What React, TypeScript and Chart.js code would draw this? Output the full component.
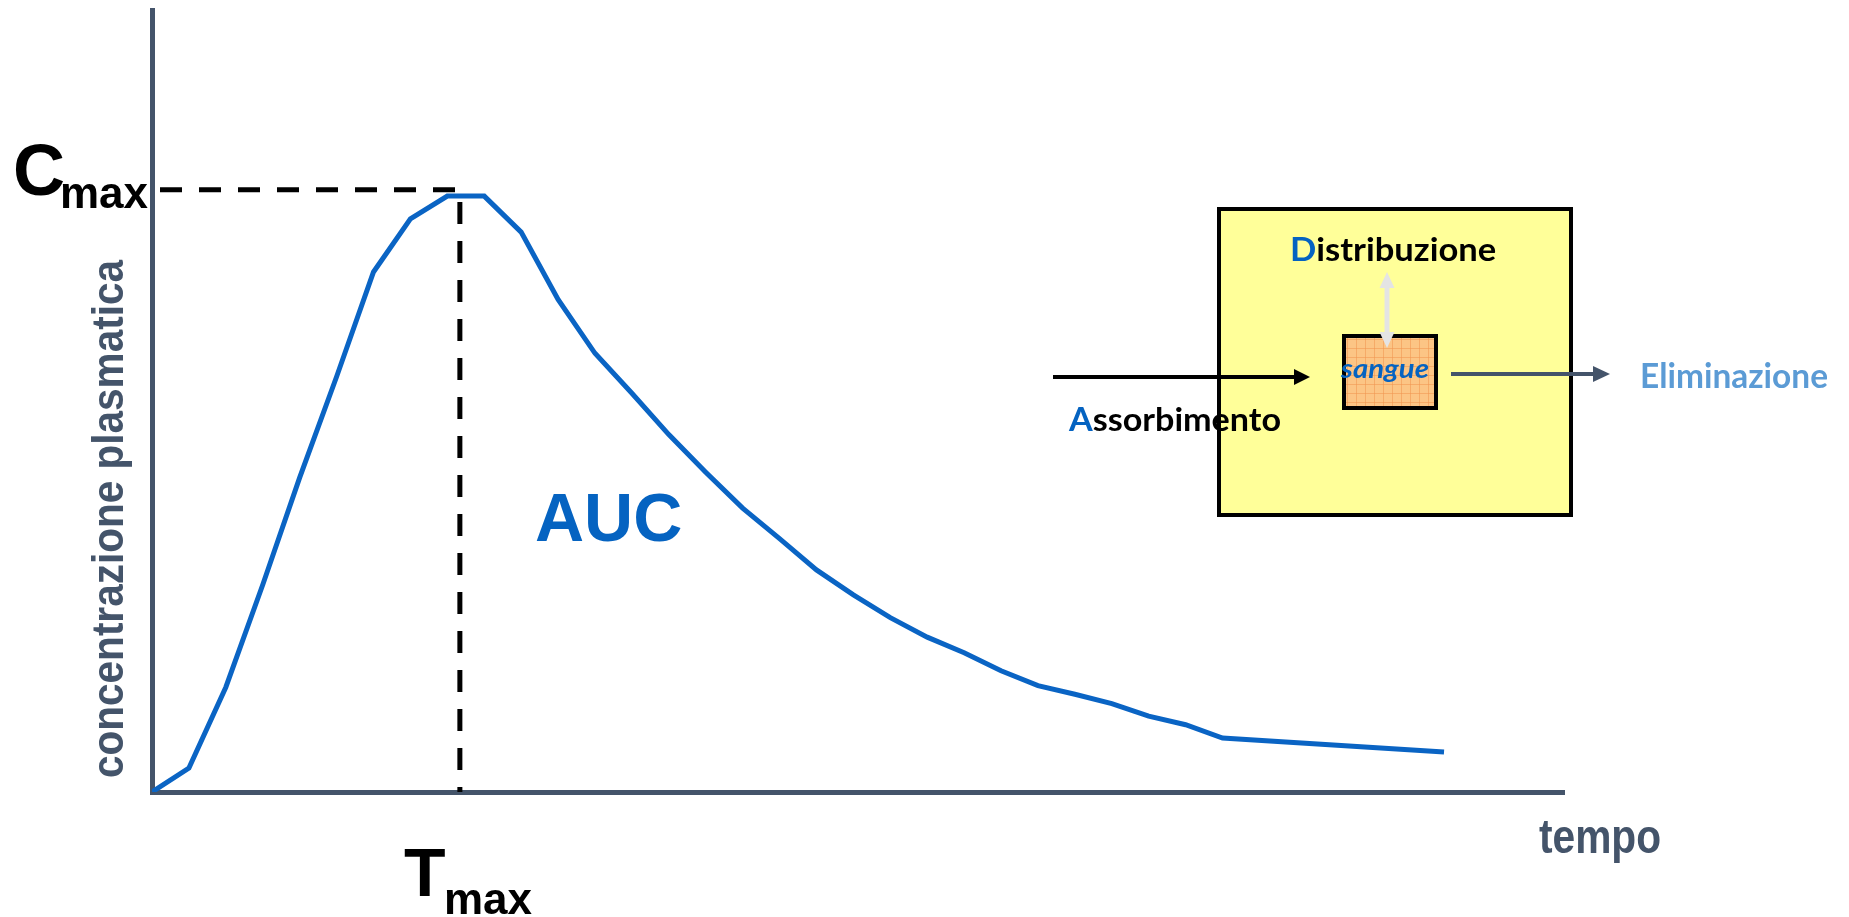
import { useEffect, useRef } from "react";
import { Chart, registerables } from "chart.js";

Chart.register(...registerables);

// ---- data ----
const tempo = [0, 1, 2, 3, 4, 5, 6, 7, 8, 9, 10, 11, 12, 13, 14, 15, 16, 17, 18, 19, 20, 21, 22, 23, 24, 25, 26, 27, 28, 29, 35];
const concentrazione = [0, 3.07, 13.4, 26.5, 40.2, 53.1, 66.5, 73.3, 76.2, 76.2, 71.6, 63.0, 56.1, 51.0, 45.7, 40.9, 36.3, 32.4, 28.4, 25.2, 22.3, 19.8, 17.8, 15.5, 13.6, 12.5, 11.3, 9.7, 8.6, 6.9, 5.1];
const cmaxValue = [77.0];
const tmaxValue = [8.34];
const axisLimits = [38.25, 100];

const AXIS = "#44546a";
const BLUE = "#0563c1";

function fitText(ctx: CanvasRenderingContext2D, parts: { t: string; c: string }[], x: number, y: number, width: number | null, font: string) {
  ctx.save();
  ctx.font = font;
  ctx.textBaseline = "alphabetic";
  ctx.textAlign = "left";
  const full = parts.map((p) => p.t).join("");
  const natural = ctx.measureText(full).width;
  const sx = width ? width / natural : 1;
  ctx.translate(x, y);
  ctx.scale(sx, 1);
  let cx = 0;
  for (const p of parts) {
    ctx.fillStyle = p.c;
    ctx.fillText(p.t, cx, 0);
    cx += ctx.measureText(p.t).width;
  }
  ctx.restore();
}

function arrowHead(ctx: CanvasRenderingContext2D, tx: number, ty: number, dx: number, dy: number, len: number, w: number) {
  const px = -dy, py = dx;
  ctx.beginPath();
  ctx.moveTo(tx, ty);
  ctx.lineTo(tx - dx * len + px * w / 2, ty - dy * len + py * w / 2);
  ctx.lineTo(tx - dx * len - px * w / 2, ty - dy * len - py * w / 2);
  ctx.closePath();
  ctx.fill();
}

function arrow(ctx: CanvasRenderingContext2D, x1: number, y1: number, x2: number, y2: number, color: string, lw: number, len: number, w: number, both = false) {
  const L = Math.hypot(x2 - x1, y2 - y1);
  const dx = (x2 - x1) / L, dy = (y2 - y1) / L;
  ctx.save();
  ctx.strokeStyle = color;
  ctx.fillStyle = color;
  ctx.lineWidth = lw;
  ctx.beginPath();
  ctx.moveTo(both ? x1 + dx * (len - 1) : x1, both ? y1 + dy * (len - 1) : y1);
  ctx.lineTo(x2 - dx * (len - 1), y2 - dy * (len - 1));
  ctx.stroke();
  arrowHead(ctx, x2, y2, dx, dy, len, w);
  if (both) arrowHead(ctx, x1, y1, -dx, -dy, len, w);
  ctx.restore();
}

const annotations = {
  id: "annotations",
  afterDraw(chart: any) {
    const ctx: CanvasRenderingContext2D = chart.ctx;
    const SANS = '"Liberation Sans", Arial, sans-serif';
    const COMIC = 'Lato, "Open Sans", sans-serif';

    // Cmax / Tmax labels
    ctx.save();
    ctx.fillStyle = "#000";
    ctx.textBaseline = "alphabetic";
    ctx.font = `bold 72px ${SANS}`;
    ctx.fillText("C", 13, 195);
    ctx.font = `bold 44px ${SANS}`;
    ctx.fillText("max", 60, 208);
    ctx.font = `bold 68px ${SANS}`;
    ctx.fillText("T", 404, 896);
    ctx.font = `bold 44px ${SANS}`;
    ctx.fillText("max", 444, 914);
    ctx.fillStyle = BLUE;
    ctx.font = `bold 68px ${SANS}`;
    ctx.fillText("AUC", 535, 541);
    ctx.restore();

    // axis titles
    fitText(ctx, [{ t: "tempo", c: AXIS }], 1539, 853, 122, `bold 48px ${SANS}`);
    ctx.save();
    ctx.translate(123, 778);
    ctx.rotate(-Math.PI / 2);
    fitText(ctx, [{ t: "concentrazione plasmatica", c: AXIS }], 0, 0, 518, `bold 44px ${SANS}`);
    ctx.restore();

    // inset diagram
    ctx.save();
    ctx.fillStyle = "#ffff99";
    ctx.fillRect(1219, 209, 352, 306);
    ctx.strokeStyle = "#000";
    ctx.lineWidth = 4;
    ctx.strokeRect(1219, 209, 352, 306);

    // sangue box with grid texture
    ctx.fillStyle = "#fcc585";
    ctx.fillRect(1344, 336, 92, 72);
    ctx.beginPath();
    ctx.rect(1344, 336, 92, 72);
    ctx.clip();
    ctx.strokeStyle = "rgba(240,150,80,0.55)";
    ctx.lineWidth = 1;
    for (let gx = 1347; gx < 1436; gx += 9) {
      ctx.beginPath(); ctx.moveTo(gx + 0.5, 336); ctx.lineTo(gx + 0.5, 408); ctx.stroke();
    }
    for (let gy = 339; gy < 408; gy += 9) {
      ctx.beginPath(); ctx.moveTo(1344, gy + 0.5); ctx.lineTo(1436, gy + 0.5); ctx.stroke();
    }
    ctx.restore();
    ctx.save();
    ctx.strokeStyle = "#000";
    ctx.lineWidth = 4;
    ctx.strokeRect(1344, 336, 92, 72);
    ctx.restore();

    // arrows
    arrow(ctx, 1387, 272, 1387, 348, "#e4e4e4", 5, 16, 15, true);
    arrow(ctx, 1053, 377, 1310, 377, "#000", 4, 16, 16);
    arrow(ctx, 1451, 374, 1610, 374, AXIS, 4, 17, 16);

    // texts
    fitText(ctx, [{ t: "D", c: BLUE }, { t: "istribuzione", c: "#000" }], 1290, 261, 206, `bold 33px ${COMIC}`);
    fitText(ctx, [{ t: "A", c: BLUE }, { t: "ssorbimento", c: "#000" }], 1069, 431, 212, `bold 33px ${COMIC}`);
    fitText(ctx, [{ t: "Eliminazione", c: "#5b9bd5" }], 1640, 388, 188, `bold 35px ${COMIC}`);
    fitText(ctx, [{ t: "sangue", c: BLUE }], 1341, 378, 88, `italic bold 27px ${COMIC}`);
  },
};

export default function App() {
  const ref = useRef<HTMLCanvasElement | null>(null);
  useEffect(() => {
    document.body.style.margin = "0";
    const canvas = ref.current!;
    const curve = tempo.map((t, i) => ({ x: t, y: concentrazione[i] }));
    const guide = [
      { x: 0, y: cmaxValue[0] },
      { x: tmaxValue[0], y: cmaxValue[0] },
      { x: tmaxValue[0], y: 0 },
    ];
    const chart = new Chart(canvas, {
      type: "line",
      data: {
        datasets: [
          {
            data: curve,
            borderColor: "#0a64c4",
            borderWidth: 5,
            pointRadius: 0,
            tension: 0,
            fill: false,
            borderJoinStyle: "miter",
          },
          {
            data: guide,
            borderColor: "#000",
            borderWidth: 5,
            borderDash: [22, 17],
            borderDashOffset: 31,
            pointRadius: 0,
            tension: 0,
            fill: false,
          },
        ],
      },
      options: {
        animation: false,
        responsive: false,
        devicePixelRatio: 1,
        layout: { padding: { left: 152, right: 285, top: 10, bottom: 125 } },
        plugins: { legend: { display: false }, tooltip: { enabled: false }, title: { display: false } },
        scales: {
          x: {
            type: "linear",
            min: 0,
            max: axisLimits[0],
            grid: { display: false, drawTicks: false },
            ticks: { display: false },
            border: { display: true, color: AXIS, width: 5 },
          },
          y: {
            type: "linear",
            min: 0,
            max: axisLimits[1],
            grid: { display: false, drawTicks: false },
            ticks: { display: false },
            border: { display: true, color: AXIS, width: 5 },
          },
        },
      },
      plugins: [annotations],
    });
    return () => chart.destroy();
  }, []);
  return (
    <div style={{ position: "absolute", left: 0, top: 0, width: 1849, height: 917, background: "#fff" }}>
      <canvas ref={ref} width={1849} height={917} style={{ width: 1849, height: 917, display: "block" }} />
    </div>
  );
}
